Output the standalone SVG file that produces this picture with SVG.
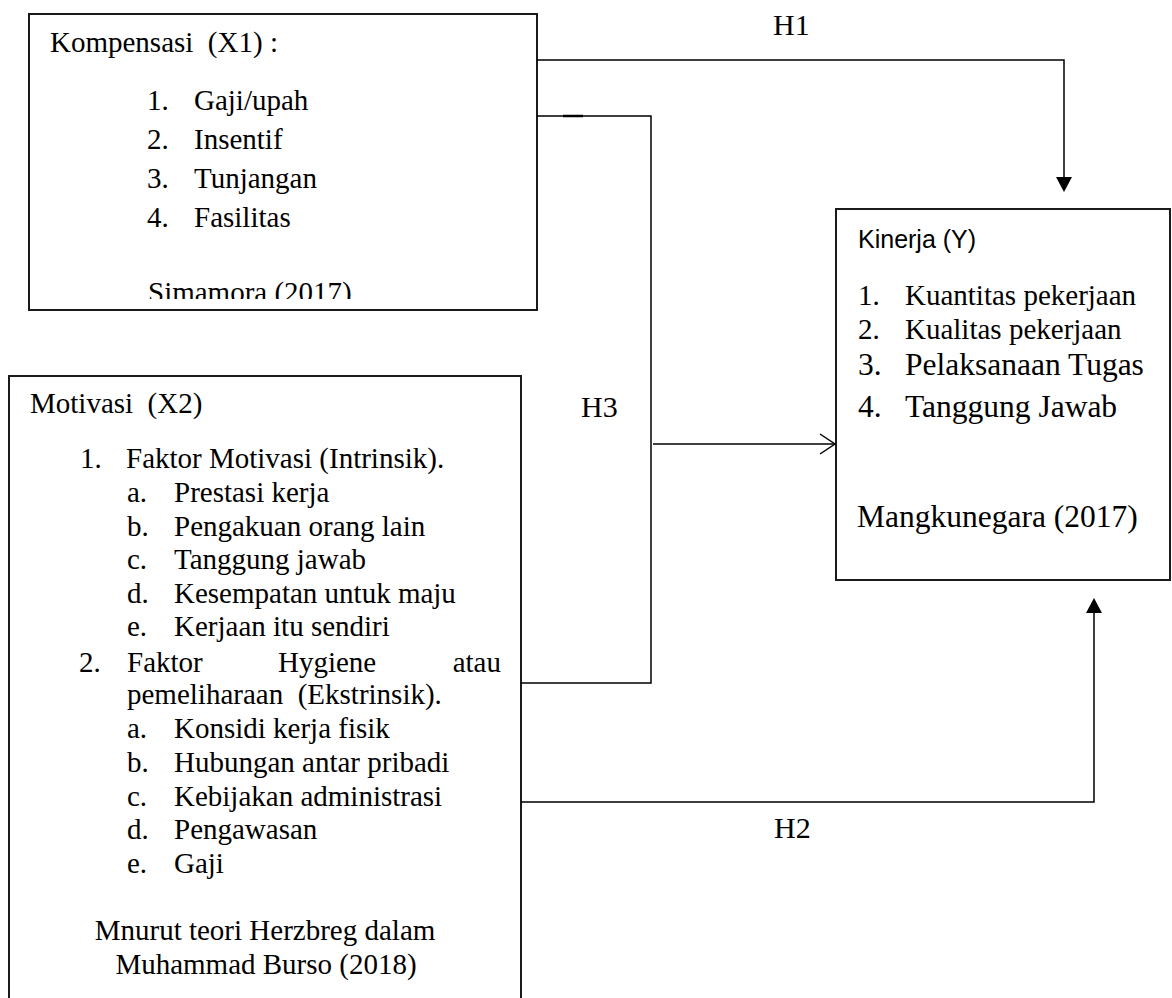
<svg xmlns="http://www.w3.org/2000/svg" width="1172" height="998" viewBox="0 0 1172 998">
<style>
.box{fill:#fff;stroke:#1a1a1a;stroke-width:2}
.t{font-family:"Liberation Serif","Times New Roman",serif;font-size:29px;fill:#000}
.tb{font-family:"Liberation Serif","Times New Roman",serif;font-size:31.5px;fill:#000}
.s{font-family:"Liberation Sans",Arial,sans-serif;font-size:25px;fill:#000}
.c{fill:none;stroke:#000;stroke-width:1.5}
.lbl{font-family:"Liberation Serif","Times New Roman",serif;font-size:30px;fill:#000}
</style>
<defs>
<clipPath id="clip1"><rect x="0" y="0" width="600" height="299"/></clipPath>
</defs>
<rect width="1172" height="998" fill="#fff"/>
<g id="kompensasi">
<rect class="box" x="29" y="14" width="508" height="296"/>
<text class="t" x="50" y="52" xml:space="preserve">Kompensasi  (X1) :</text>
<text class="t" x="147" y="110">1.</text><text class="t" x="194" y="110">Gaji/upah</text>
<text class="t" x="147" y="149">2.</text><text class="t" x="194" y="149">Insentif</text>
<text class="t" x="147" y="188">3.</text><text class="t" x="194" y="188">Tunjangan</text>
<text class="t" x="147" y="227">4.</text><text class="t" x="194" y="227">Fasilitas</text>
<text class="t" x="148" y="302" clip-path="url(#clip1)">Simamora (2017)</text>
</g>
<g id="motivasi">
<rect class="box" x="9" y="376" width="512" height="640"/>
<text class="t" x="30" y="413" xml:space="preserve">Motivasi  (X2)</text>
<text class="t" x="80" y="468">1.</text><text class="t" x="126" y="468">Faktor Motivasi (Intrinsik).</text>
<text class="t" x="127" y="502">a.</text><text class="t" x="174" y="502">Prestasi kerja</text>
<text class="t" x="127" y="536">b.</text><text class="t" x="174" y="536">Pengakuan orang lain</text>
<text class="t" x="127" y="569">c.</text><text class="t" x="174" y="569">Tanggung jawab</text>
<text class="t" x="127" y="603">d.</text><text class="t" x="174" y="603">Kesempatan untuk maju</text>
<text class="t" x="127" y="636">e.</text><text class="t" x="174" y="636">Kerjaan itu sendiri</text>
<text class="t" x="79" y="672">2.</text><text class="t" x="127" y="672">Faktor</text><text class="t" x="278" y="672">Hygiene</text><text class="t" x="501" y="672" text-anchor="end">atau</text>
<text class="t" x="127" y="704" xml:space="preserve">pemeliharaan  (Ekstrinsik).</text>
<text class="t" x="127" y="738">a.</text><text class="t" x="174" y="738">Konsidi kerja fisik</text>
<text class="t" x="127" y="772">b.</text><text class="t" x="174" y="772">Hubungan antar pribadi</text>
<text class="t" x="127" y="806">c.</text><text class="t" x="174" y="806">Kebijakan administrasi</text>
<text class="t" x="127" y="839">d.</text><text class="t" x="174" y="839">Pengawasan</text>
<text class="t" x="127" y="873">e.</text><text class="t" x="174" y="873">Gaji</text>
<text class="t" x="265" y="940" text-anchor="middle">Mnurut teori Herzbreg dalam</text>
<text class="t" x="266" y="974" text-anchor="middle">Muhammad Burso (2018)</text>
</g>
<g id="kinerja">
<rect class="box" x="836" y="209" width="334" height="371"/>
<text class="s" x="858" y="248">Kinerja (Y)</text>
<text class="t" x="858" y="305">1.</text><text class="t" x="905" y="305">Kuantitas pekerjaan</text>
<text class="t" x="858" y="339">2.</text><text class="t" x="905" y="339">Kualitas pekerjaan</text>
<text class="tb" x="858" y="375">3.</text><text class="tb" x="905" y="375">Pelaksanaan Tugas</text>
<text class="tb" x="858" y="417">4.</text><text class="tb" x="905" y="417">Tanggung Jawab</text>
<text class="tb" x="857" y="527">Mangkunegara (2017)</text>
</g>
<g id="connectors">
<path class="c" d="M537 60 H1064 V178"/>
<polygon points="1056,177 1072,177 1064,192" fill="#000"/>
<path class="c" d="M537 116 H651 V683 H521"/>
<line x1="563" y1="116" x2="583" y2="116" stroke="#000" stroke-width="2.5"/>
<path class="c" d="M653 444 H835"/>
<path class="c" d="M820 434 L835 444 L820 454"/>
<path class="c" d="M521 802 H1094 V612"/>
<polygon points="1086,613 1102,613 1094,598" fill="#000"/>
<text class="lbl" x="773" y="35">H1</text>
<text class="lbl" x="581" y="417">H3</text>
<text class="lbl" x="774" y="838">H2</text>
</g>
</svg>
